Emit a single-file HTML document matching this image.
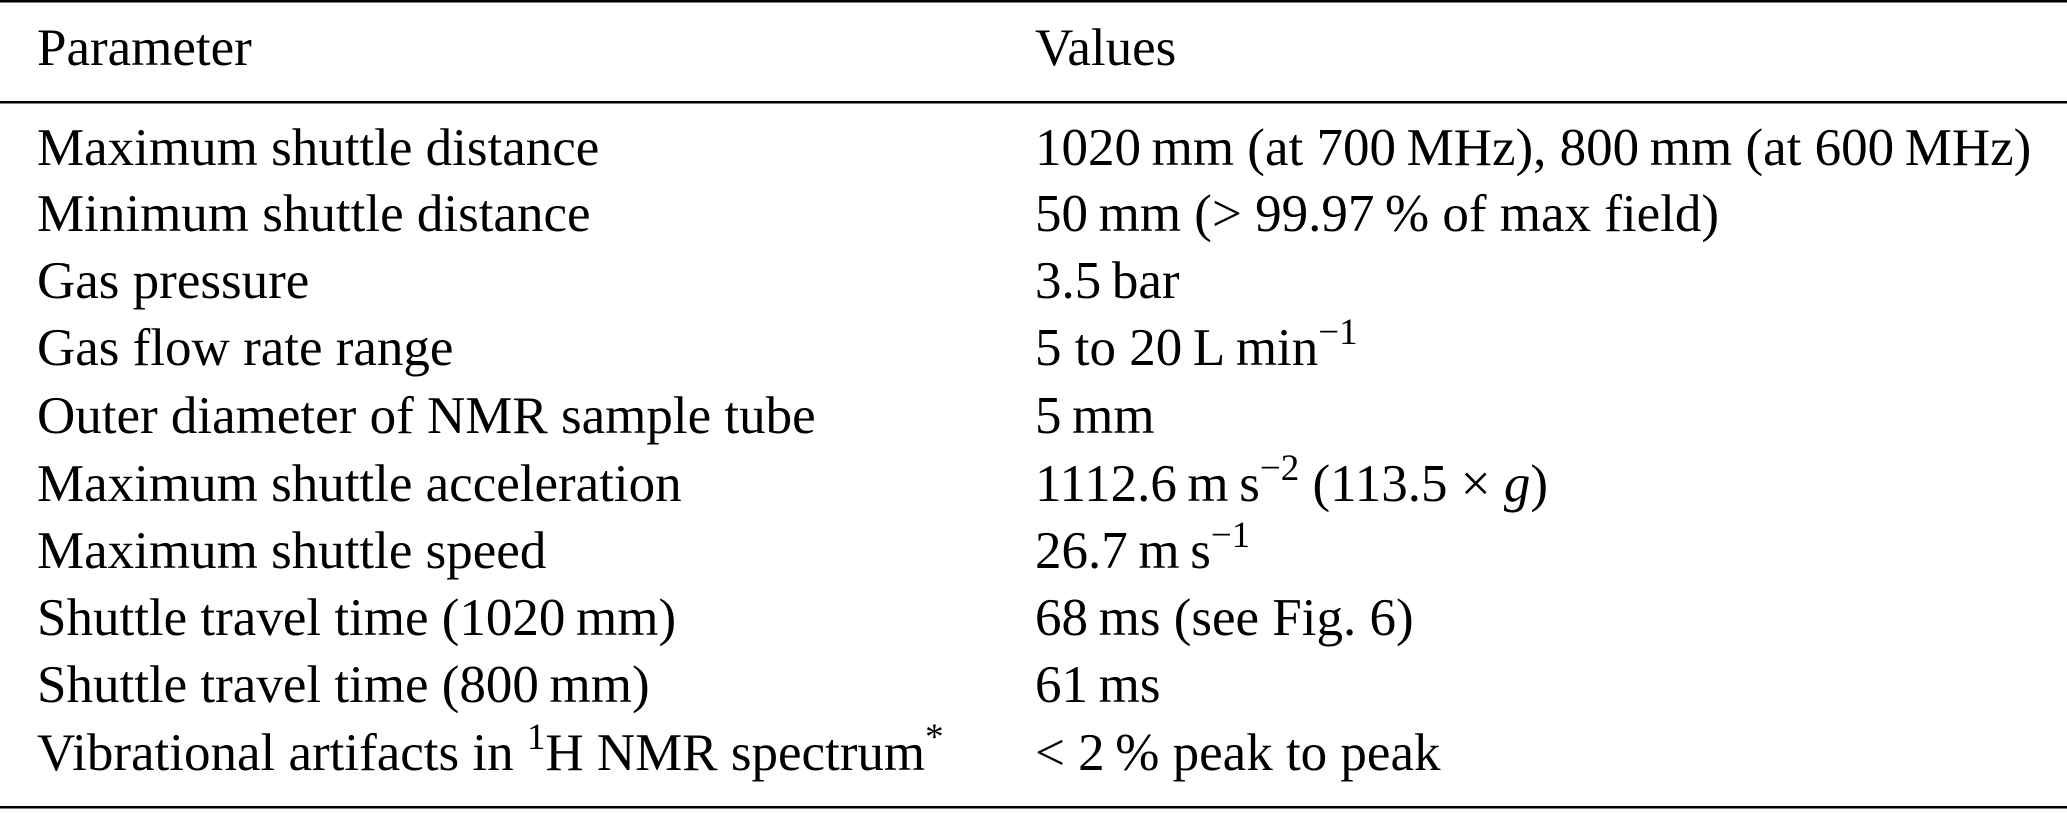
<!DOCTYPE html>
<html><head><meta charset="utf-8"><style>
body{margin:0;background:#fff;}
svg text{font-family:"Liberation Serif",serif;font-size:53px;fill:#000;}
.s{font-size:37px;}
</style></head><body>
<svg width="2067" height="809" viewBox="0 0 2067 809" xmlns="http://www.w3.org/2000/svg">
<rect x="0" y="0" width="2067" height="2.5" fill="#000"/>
<rect x="0" y="101" width="2067" height="2.5" fill="#000"/>
<rect x="0" y="806" width="2067" height="2.5" fill="#000"/>
<text x="37" y="65">Parameter</text>
<text x="1035" y="65">Values</text>
<g>
<text x="37" y="165">Maximum shuttle distance</text>
<text x="1035" y="165">1020&#8201;mm (at 700&#8201;MHz), 800&#8201;mm (at 600&#8201;MHz)</text>
<text x="37" y="231">Minimum shuttle distance</text>
<text x="1035" y="231">50&#8201;mm (&gt; 99.97&#8201;% of max field)</text>
<text x="37" y="298">Gas pressure</text>
<text x="1035" y="298">3.5&#8201;bar</text>
<text x="37" y="365">Gas flow rate range</text>
<text x="1035" y="365">5 to 20&#8201;L&#8201;min<tspan class="s" dy="-21">−1</tspan></text>
<text x="37" y="433">Outer diameter of NMR sample tube</text>
<text x="1035" y="433">5&#8201;mm</text>
<text x="37" y="501">Maximum shuttle acceleration</text>
<text x="1035" y="501">1112.6&#8201;m&#8201;s<tspan class="s" dy="-21">−2</tspan><tspan dy="21"> (113.5 × </tspan><tspan font-style="italic">g</tspan>)</text>
<text x="37" y="568">Maximum shuttle speed</text>
<text x="1035" y="568">26.7&#8201;m&#8201;s<tspan class="s" dy="-21">−1</tspan></text>
<text x="37" y="635">Shuttle travel time (1020&#8201;mm)</text>
<text x="1035" y="635">68&#8201;ms (see Fig. 6)</text>
<text x="37" y="702">Shuttle travel time (800&#8201;mm)</text>
<text x="1035" y="702">61&#8201;ms</text>
<text x="37" y="770">Vibrational artifacts in <tspan class="s" dy="-21">1</tspan><tspan dy="21">H NMR spectrum</tspan><tspan class="s" dy="-21">*</tspan></text>
<text x="1035" y="770">&lt; 2&#8201;% peak to peak</text>
</g>
</svg>
</body></html>
